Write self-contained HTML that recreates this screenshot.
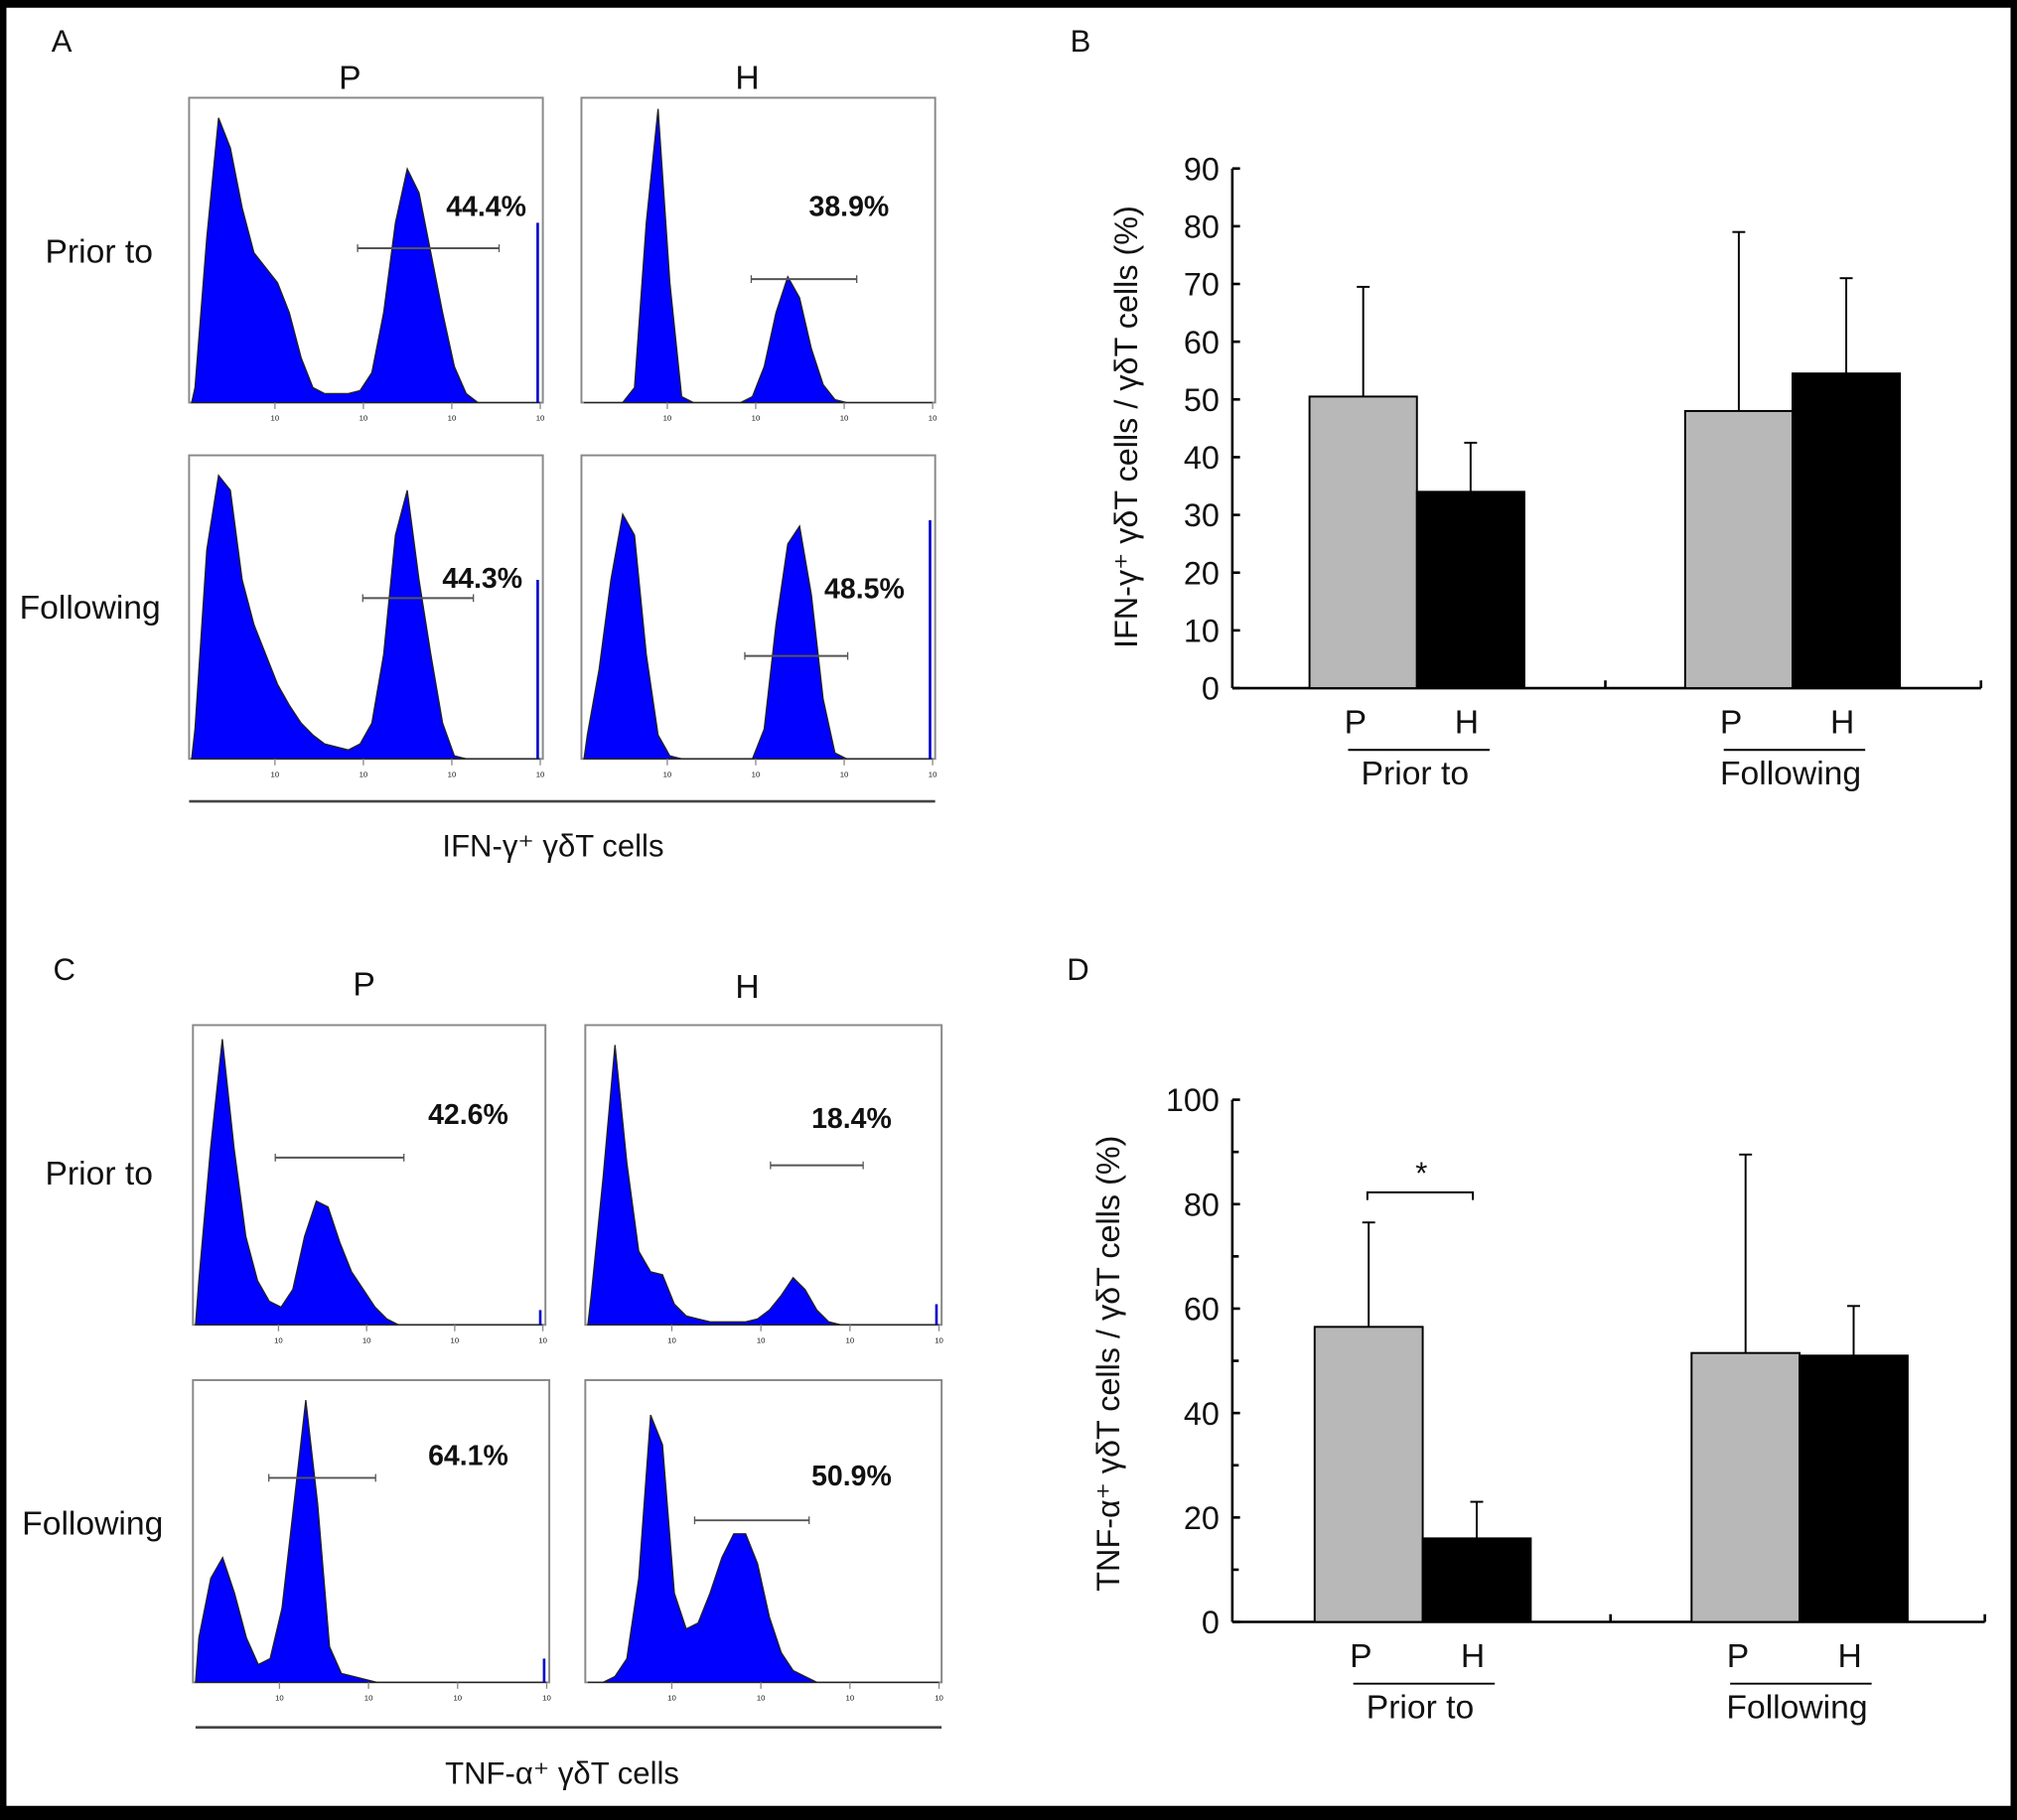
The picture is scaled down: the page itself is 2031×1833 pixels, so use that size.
<!DOCTYPE html>
<html><head><meta charset="utf-8"><style>
html,body{margin:0;padding:0;background:#000}
svg{display:block}
text{font-family:"Liberation Sans",Arial,sans-serif;fill:#111}
</style></head><body>
<svg id="fig" width="2031" height="1833" viewBox="0 0 1568 1415" preserveAspectRatio="none" xmlns="http://www.w3.org/2000/svg">
<rect x="0" y="0" width="1568" height="1415" fill="#000"/>
<rect x="5" y="6" width="1558" height="1398" fill="#fff"/>
<g id="root"></g>
</svg>
<script>
// ---------- Panel B data ----------
const bGroups = ["Prior to","Following"];
const bSeries = ["P","H"];
const bValues = [[50.5,34],[48,54.5]];
const bErrors = [[69.5,42.5],[79,71]];
const bTicks = [0,10,20,30,40,50,60,70,80,90];
// ---------- Panel D data ----------
const dValues = [[56.5,16],[51.5,51]];
const dErrors = [[76.5,23],[89.5,60.5]];
const dTicks = [0,20,40,60,80,100];
const dMinorTicks = [10,30,50,70,90];
// ---------- Histogram data (fraction of box height per bin) ----------
const histAPPrior = [.05,.55,.95,.85,.65,.5,.45,.4,.3,.15,.05,.03,.03,.03,.04,.1,.3,.6,.78,.7,.5,.3,.12,.03,0,0,0,0,0,0];
const histAHPrior = [0,0,0,0,.05,.6,.98,.4,.02,0,0,0,0,0,.02,.12,.3,.42,.35,.18,.06,.01,0,0,0,0,0,0,0,0];
const histAPFollow = [.1,.7,.95,.9,.6,.45,.35,.25,.18,.12,.08,.05,.04,.03,.05,.12,.35,.75,.9,.6,.35,.12,.01,0,0,0,0,0,0,0];
const histAHFollow = [.08,.3,.6,.82,.75,.35,.08,.01,0,0,0,0,0,0,0,.1,.45,.72,.78,.55,.2,.02,0,0,0,0,0,0,0,0];
const histCPPrior = [.15,.6,.97,.6,.3,.15,.08,.06,.12,.3,.42,.4,.28,.18,.12,.06,.02,0,0,0,0,0,0,0,0,0,0,0,0,0];
const histCHPrior = [.1,.5,.95,.55,.25,.18,.17,.07,.03,.02,.01,.01,.01,.01,.02,.05,.1,.16,.12,.05,.01,0,0,0,0,0,0,0,0,0];
const histCPFollow = [.15,.35,.42,.3,.15,.06,.08,.25,.6,.95,.6,.12,.03,.02,.01,0,0,0,0,0,0,0,0,0,0,0,0,0,0,0];
const histCHFollow = [0,0,.02,.08,.35,.9,.8,.3,.18,.2,.3,.42,.5,.5,.4,.22,.1,.04,.02,0,0,0,0,0,0,0,0,0,0,0];
const histPercents = ["44.4%","38.9%","44.3%","48.5%","42.6%","18.4%","64.1%","50.9%"];

const NS="http://www.w3.org/2000/svg";
const root=document.getElementById('root');
function el(tag,attrs,parent,txt){const e=document.createElementNS(NS,tag);for(const k in attrs)e.setAttribute(k,attrs[k]);if(txt!==undefined)e.textContent=txt;(parent||root).appendChild(e);return e;}
function label(x,y,s,size,name,extra){const t=el('text',Object.assign({x:x,y:y,'font-size':size,'text-anchor':'middle'},extra||{}),root,s);

return t;}

// panel letters & headings
label(48,40,"A",24,"panel-a-label");label(840,40,"B",24,"panel-b-label");
label(50,762,"C",24,"panel-c-label");label(838,762,"D",24,"panel-d-label");
label(272,69,"P",26,"col-p-title-a");label(581,69,"H",26,"col-h-title-a");
label(283,774,"P",26,"col-p-title-c");label(581,776,"H",26,"col-h-title-c");
label(77,204,"Prior to",26,"row-prior-a");label(70,481,"Following",26,"row-following-a");
label(77,921,"Prior to",26,"row-prior-c");label(72,1193,"Following",26,"row-following-c");

// histograms
const hists=[
 {d:histAPPrior,x0:147,x1:422,y0:76,y1:313,p:0,lx:378,ly:160,g:[278,388,193],spike:.6,n:"hist-a-p-prior"},
 {d:histAHPrior,x0:452,x1:727,y0:76,y1:313,p:1,lx:660,ly:160,g:[584,666,217],spike:0,n:"hist-a-h-prior"},
 {d:histAPFollow,x0:147,x1:422,y0:354,y1:590,p:2,lx:375,ly:449,g:[282,368,465],spike:.6,n:"hist-a-p-following"},
 {d:histAHFollow,x0:452,x1:727,y0:354,y1:590,p:3,lx:672,ly:457,g:[579,659,510],spike:.8,n:"hist-a-h-following"},
 {d:histCPPrior,x0:150,x1:424,y0:797,y1:1030,p:4,lx:364,ly:866,g:[214,314,900],spike:.05,n:"hist-c-p-prior"},
 {d:histCHPrior,x0:455,x1:732,y0:797,y1:1030,p:5,lx:662,ly:869,g:[599,671,906],spike:.07,n:"hist-c-h-prior"},
 {d:histCPFollow,x0:150,x1:427,y0:1073,y1:1308,p:6,lx:364,ly:1131,g:[209,292,1149],spike:.08,n:"hist-c-p-following"},
 {d:histCHFollow,x0:455,x1:732,y0:1073,y1:1308,p:7,lx:662,ly:1147,g:[540,629,1182],spike:0,n:"hist-c-h-following"}
];
hists.forEach(h=>{
 const g=el('g',{});
 
 
 el('rect',{x:h.x0,y:h.y0,width:h.x1-h.x0,height:h.y1-h.y0,fill:'#fff',stroke:'#888','stroke-width':1.5},g);
 const n=h.d.length,bw=(h.x1-h.x0)/n,H=h.y1-h.y0-4;
 const xs=i=>h.x0+bw*(i+0.5), ys=v=>h.y1-v*H;
 let pts=[[h.x0+2,h.y1]];
 h.d.forEach((v,i)=>pts.push([xs(i),ys(v)]));
 pts.push([h.x1-2,h.y1]);
 const poly=el('polygon',{points:pts.map(p=>p.join(',')).join(' '),fill:'#0000ff',stroke:'#222','stroke-width':1},g);
 
 
 if(h.spike>0) el('line',{x1:h.x1-4,x2:h.x1-4,y1:h.y1,y2:ys(h.spike),stroke:'#0000cc','stroke-width':2},g);
 for(let k=1;k<=4;k++){const tx=h.x0+(h.x1-h.x0)*k/4-2;el('line',{x1:tx,x2:tx,y1:h.y1,y2:h.y1+5,stroke:'#888'},g);
  el('text',{x:tx,y:h.y1+14,'font-size':6,'text-anchor':'middle',fill:'#888'},g,'10');}
 el('line',{x1:h.g[0],x2:h.g[1],y1:h.g[2],y2:h.g[2],stroke:'#555','stroke-width':1.5},g);
 el('line',{x1:h.g[0],x2:h.g[0],y1:h.g[2]-3,y2:h.g[2]+3,stroke:'#555'},g);
 el('line',{x1:h.g[1],x2:h.g[1],y1:h.g[2]-3,y2:h.g[2]+3,stroke:'#555'},g);
 const t=el('text',{x:h.lx,y:h.ly+8,'font-size':22,'font-weight':'bold','text-anchor':'middle'},g,histPercents[h.p]);
 
 
});
el('line',{x1:147,x2:727,y1:623,y2:623,stroke:'#444','stroke-width':2});
label(430,666,"IFN-γ⁺ γδT cells",24,"x-axis-title-a");
el('line',{x1:152,x2:732,y1:1343,y2:1343,stroke:'#444','stroke-width':2});
label(437,1387,"TNF-α⁺ γδT cells",24,"x-axis-title-c");

// bar charts
function barChart(cfg){
 const g=el('g',{});
 
 
 const y=v=>cfg.y0-(v/cfg.vmax)*(cfg.y0-cfg.ytop);
 el('line',{x1:cfg.ax,x2:cfg.ax,y1:y(cfg.vmax),y2:cfg.y0,stroke:'#000','stroke-width':2},g);
 el('line',{x1:cfg.ax,x2:cfg.xend,y1:cfg.y0,y2:cfg.y0,stroke:'#000','stroke-width':2},g);
 el('line',{x1:cfg.mid,x2:cfg.mid,y1:cfg.y0,y2:cfg.y0-6,stroke:'#000','stroke-width':2},g);
 el('line',{x1:cfg.xend,x2:cfg.xend,y1:cfg.y0,y2:cfg.y0-6,stroke:'#000','stroke-width':2},g);
 cfg.ticks.forEach(t=>{el('line',{x1:cfg.ax,x2:cfg.ax+6,y1:y(t),y2:y(t),stroke:'#000','stroke-width':2},g);
  const tx=el('text',{x:cfg.ax-10,y:y(t)+9,'font-size':25,'text-anchor':'end'},g,String(t));
  
  });
 (cfg.minor||[]).forEach(t=>el('line',{x1:cfg.ax,x2:cfg.ax+5,y1:y(t),y2:y(t),stroke:'#000','stroke-width':2},g));
 cfg.values.forEach((grp,gi)=>{
  grp.forEach((v,si)=>{
   const x0=cfg.gx[gi]+si*cfg.bw;
   const r=el('rect',{x:x0,y:y(v),width:cfg.bw,height:cfg.y0-y(v),fill:si?'#000':'#b8b8b8',stroke:'#000','stroke-width':1.5},g);
   
   
   const cx=x0+cfg.bw/2,e=cfg.errors[gi][si];
   el('line',{x1:cx,x2:cx,y1:y(v),y2:y(e),stroke:'#000','stroke-width':1.5},g);
   el('line',{x1:cx-5,x2:cx+5,y1:y(e),y2:y(e),stroke:'#000','stroke-width':1.5},g);
   const lt=el('text',{x:x0+cfg.bw/2-6+si*3,y:cfg.y0+35,'font-size':26,'text-anchor':'middle'},g,bSeries[si]);
   
   
  });
  const gx=cfg.gx[gi];
  el('line',{x1:gx+30,x2:gx+140,y1:cfg.y0+48,y2:cfg.y0+48,stroke:'#000','stroke-width':1.5},g);
  const gt=el('text',{x:gx+82,y:cfg.y0+75,'font-size':26,'text-anchor':'middle'},g,bGroups[gi]);
  
  
 });
 const yt=el('text',{x:0,y:0,'font-size':25,'text-anchor':'middle',transform:`translate(${cfg.ylx},${cfg.yly}) rotate(-90)`},g,cfg.ylabel);
 
 
 return {g:g,y:y};
}
barChart({name:'chart-b',ax:958,y0:535,ytop:131,vmax:90,xend:1540,mid:1248,ticks:bTicks,values:bValues,errors:bErrors,gx:[1018,1310],bw:83.5,
 ylabel:"IFN-γ⁺ γδT cells / γδT cells (%)",ylx:884,yly:332});
const D=barChart({name:'chart-d',ax:958,y0:1261,ytop:855,vmax:100,xend:1543,mid:1252,ticks:dTicks,minor:dMinorTicks,values:dValues,errors:dErrors,gx:[1022,1315],bw:84,
 ylabel:"TNF-α⁺ γδT cells / γδT cells (%)",ylx:870,yly:1060});
// significance bracket
el('path',{d:'M1063,933 V927 H1145 V933',fill:'none',stroke:'#000','stroke-width':1.5},D.g);
label(1105,920,"*",24,"significance-star");
</script>
</body></html>
